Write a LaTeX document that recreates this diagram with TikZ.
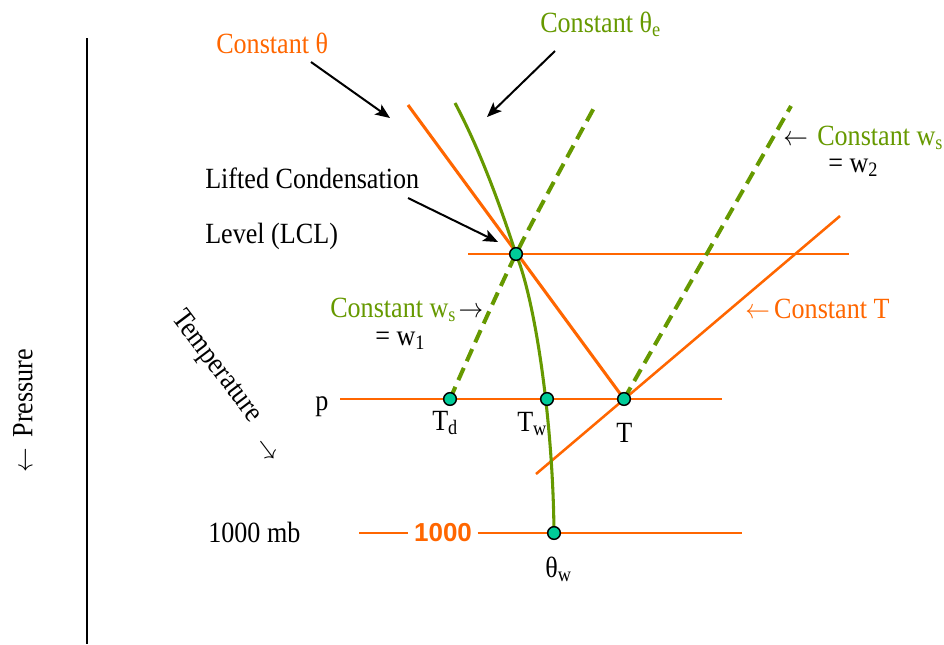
\documentclass[tikz,border=0pt]{standalone}
\usepackage{graphicx}
\usepackage{fontspec}
\setmainfont{Liberation Serif}
\newfontfamily\arialfont{Liberation Sans}
\usetikzlibrary{arrows.meta}
\definecolor{org}{HTML}{FF6600}
\definecolor{grn}{HTML}{669900}
\definecolor{dotfill}{HTML}{00CC99}
\newcommand{\cnd}[1]{\scalebox{0.89}[1]{#1}}
\begin{document}
\begin{tikzpicture}[x=0.75pt,y=-0.75pt,
  every node/.style={font=\fontsize{22pt}{26pt}\selectfont, inner sep=0pt},
  thinorg/.style={draw=org, line width=1.5pt},
  thickorg/.style={draw=org, line width=2.3pt},
  grnsolid/.style={draw=grn, line width=2.3pt},
  grndash/.style={draw=grn, line width=3pt, dash pattern=on 10pt off 5.5pt},
  ptr/.style={draw=black, line width=1.5pt, -{Stealth[length=11pt,width=9pt,inset=2.5pt]}},
  dotnode/.style={circle, draw=black, line width=1.1pt, fill=dotfill, minimum size=9.5pt, inner sep=0pt},
]
\useasboundingbox (0,0) rectangle (944,644);

% axis
\coordinate (axtop) at (87,38);
\coordinate (axbot) at (87,644);
\draw[line width=1.3pt] (axtop) -- (axbot);

% key points
\coordinate (pLCL) at (516,254);
\coordinate (pTd) at (450,399);
\coordinate (pTw) at (547,399);
\coordinate (pT) at (624,399);
\coordinate (pThw) at (554,533);

% horizontal isobars
\coordinate (lclL) at (468,254);
\coordinate (lclR) at (849,254);
\draw[thinorg] (lclL) -- (lclR);
\coordinate (pL) at (340,399);
\coordinate (pR) at (722,399);
\draw[thinorg] (pL) -- (pR);
\coordinate (kL) at (359,533);
\coordinate (kR) at (742,533);
\node[text=org, font=\fontsize{19.5pt}{23pt}\arialfont\bfseries, fill=white, inner xsep=4pt, inner ysep=2pt] (k1000) at (443,533) {1000};
\draw[thinorg] (kL) -- (k1000.west);
\draw[thinorg] (k1000.east) -- (kR);

% constant T
\coordinate (cTlo) at (536,474);
\coordinate (cThi) at (840,216);
\draw[thinorg, line width=1.9pt] (cTlo) -- (cThi);

% constant theta
\coordinate (thtop) at (408,105);
\draw[thickorg] (thtop) -- (pT);

% constant theta_e
\coordinate (tetop) at (455,103);
\draw[grnsolid] (tetop) .. controls (480,150) and (500,205) .. (pLCL)
  .. controls (535,300) and (553,420) .. (pThw);

% constant w_s lines
\coordinate (w1top) at (595,106);
\draw[grndash] plot[smooth] coordinates {(pTd) (pLCL) (w1top)};
\coordinate (w2top) at (791,106);
\draw[grndash] (pT) -- (w2top);

% dots
\node[dotnode] (dLCL) at (pLCL) {};
\node[dotnode] (dTd) at (pTd) {};
\node[dotnode] (dTw) at (pTw) {};
\node[dotnode] (dT) at (pT) {};
\node[dotnode] (dThw) at (pThw) {};

% labels
\node[text=org, anchor=base west] (lth) at (216,53) {\cnd{Constant θ}};
\coordinate (a1s) at (311,62);
\coordinate (a1e) at (390,118);
\draw[ptr] (a1s) -- (a1e);

\node[text=grn, anchor=base west] (lthe) at (540,32) {\cnd{Constant θ\textsubscript{e}}};
\coordinate (a2s) at (555,51);
\coordinate (a2e) at (487,117);
\draw[ptr] (a2s) -- (a2e);

\node[anchor=base west] (llcl1) at (205,188) {\cnd{Lifted Condensation}};
\node[anchor=base west] (llcl2) at (205,243) {\cnd{Level (LCL)}};
\coordinate (a3s) at (408,198);
\coordinate (a3e) at (498,242);
\draw[ptr] (a3s) -- (a3e);

\node[text=grn, anchor=base west] (lw1) at (330,317) {\cnd{Constant w\textsubscript{s}}};
\node[anchor=base west] (lw1a) at ([xshift=1.5pt]lw1.base east) {\cnd{$\rightarrow$}};
\node[anchor=base west] (lw1b) at (375,345) {\cnd{= w\textsubscript{1}}};

\node[anchor=base west] (lw2a) at (783,145) {\cnd{$\leftarrow$}};
\node[text=grn, anchor=base west] (lw2) at (817,145) {\cnd{Constant w\textsubscript{s}}};
\node[anchor=base west] (lw2b) at (828,172) {\cnd{= w\textsubscript{2}}};

\node[text=org, anchor=base west] (lcT) at (745,318) {\cnd{$\leftarrow$\,Constant T}};

\node[anchor=base west] (lp) at (315,410) {\cnd{p}};
\node[anchor=base west] (lTd) at (432,430) {\cnd{T\textsubscript{d}}};
\node[anchor=base west] (lTw) at (517,431) {\cnd{T\textsubscript{w}}};
\node[anchor=base west] (lT) at (616,442) {\cnd{T}};
\node[anchor=base west] (lthw) at (545,577) {\cnd{θ\textsubscript{w}}};
\node[anchor=base west] (l1000) at (208,542) {\cnd{1000 mb}};

\node[rotate=90] (lpres) at (23,411) {\cnd{$\leftarrow$\, Pressure}};
\node[rotate=-53] (ltemp) at (216,367) {\cnd{Temperature}};
\node[rotate=-53] (ltarr) at (266,451) {\cnd{$\rightarrow$}};
\end{tikzpicture}
\end{document}
